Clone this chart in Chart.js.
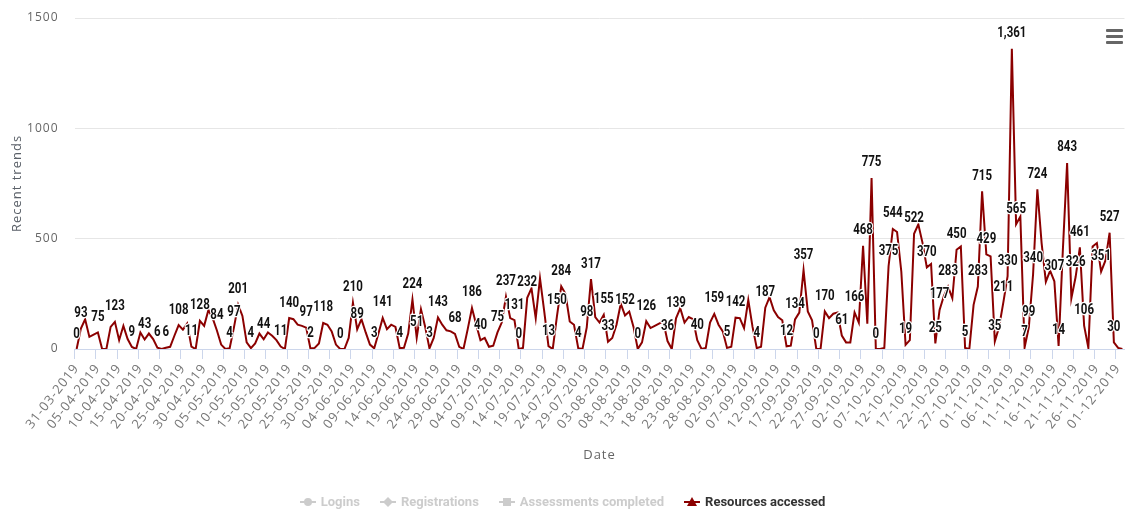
<!DOCTYPE html>
<html>
<head>
<meta charset="utf-8">
<script src="https://cdn.jsdelivr.net/npm/chart.js@4.4.0/dist/chart.umd.min.js"></script>
<style>
  html, body { margin: 0; padding: 0; background: #fff; }
  #wrap { position: relative; width: 1125px; height: 510px; }
  #menu { position: absolute; left: 1106px; top: 29px; width: 17px; }
  #menu span { display: block; height: 3px; background: #666; margin-bottom: 3px; border-radius: 1px; }
  #legend {
    position: absolute; left: 0; top: 494px; width: 1125px;
    display: flex; justify-content: center;
    font: bold 13px Roboto, "Liberation Sans", sans-serif;
  }
  .item { display: flex; align-items: center; margin: 0 10px; color: #ccc; }
  .item svg { margin-right: 5px; }
  .item.on { color: #333; }
</style>
</head>
<body>
<div id="wrap">
  <canvas id="chart" width="1125" height="510"></canvas>
  <div id="menu"><span></span><span></span><span></span></div>
  <div id="legend">
    <div class="item"><svg width="16" height="12"><line x1="0" y1="6" x2="16" y2="6" stroke="#ccc" stroke-width="2"/><circle cx="8" cy="6" r="4" fill="#ccc"/></svg>Logins</div>
    <div class="item"><svg width="16" height="12"><line x1="0" y1="6" x2="16" y2="6" stroke="#ccc" stroke-width="2"/><path d="M8 1 L13 6 L8 11 L3 6 Z" fill="#ccc"/></svg>Registrations</div>
    <div class="item"><svg width="16" height="12"><line x1="0" y1="6" x2="16" y2="6" stroke="#ccc" stroke-width="2"/><rect x="4" y="2" width="8" height="8" fill="#ccc"/></svg>Assessments completed</div>
    <div class="item on"><svg width="16" height="12"><line x1="0" y1="6" x2="16" y2="6" stroke="#8b0000" stroke-width="2"/><path d="M8 1 L13 10 L3 10 Z" fill="#8b0000"/></svg>Resources accessed</div>
  </div>
</div>
<script>
// daily values, 31-03-2019 .. 02-12-2019
const resources = [
  0, 93, 135, 55, 65, 75, 0, 0, 100, 123,
  40, 105, 45, 9, 0, 75, 43, 70, 45, 6,
  0, 6, 10, 60, 108, 88, 115, 11, 0, 128,
  105, 177, 140, 84, 20, 0, 4, 97, 201, 150,
  30, 4, 25, 70, 44, 75, 60, 40, 11, 0,
  140, 135, 110, 105, 97, 2, 5, 25, 118, 110,
  80, 20, 0, 0, 50, 210, 89, 135, 75, 20,
  3, 70, 141, 90, 110, 100, 4, 5, 70, 224,
  51, 180, 100, 3, 50, 143, 110, 85, 80, 68,
  10, 0, 90, 186, 110, 40, 50, 10, 15, 75,
  120, 237, 140, 131, 0, 5, 232, 275, 140, 320,
  170, 13, 0, 150, 284, 250, 125, 110, 4, 0,
  98, 317, 145, 120, 155, 33, 50, 110, 205, 152,
  170, 100, 0, 30, 126, 95, 105, 115, 125, 36,
  0, 139, 185, 120, 145, 135, 40, 0, 5, 120,
  159, 110, 80, 5, 10, 142, 140, 95, 222, 100,
  4, 10, 187, 235, 175, 145, 130, 12, 15, 134,
  165, 357, 170, 130, 0, 0, 170, 140, 160, 165,
  61, 30, 30, 166, 120, 468, 115, 775, 0, 0,
  5, 375, 544, 530, 350, 19, 40, 522, 565, 480,
  370, 385, 25, 177, 240, 283, 230, 450, 465, 5,
  0, 200, 283, 715, 429, 420, 35, 100, 211, 330,
  1361, 565, 600, 7, 99, 340, 724, 480, 305, 355,
  307, 14, 450, 843, 230, 326, 461, 106, 5, 465,
  480, 351, 400, 527, 30, 5, 0
];

// points whose value label is visible (the rest are hidden by overlap)
const labelledPoints = [
  0, 1, 5, 9, 13, 16, 19, 21, 24, 27, 29, 33, 36, 37, 38, 41, 44, 48, 50, 54, 55, 58,
  62, 65, 66, 70, 72, 76, 79, 80, 83, 85, 89, 93, 95, 99, 101, 103, 104, 106, 111,
  113, 114, 118, 120, 121, 124, 125, 129, 132, 134, 139, 141, 146, 150, 153, 155,
  160, 162, 167, 169, 171, 174, 176, 180, 183, 185, 187, 188, 191, 192, 195, 197,
  200, 202, 203, 205, 207, 209, 212, 213, 214, 216, 218, 219, 220, 221, 223, 224,
  225, 226, 230, 231, 233, 235, 236, 237, 241, 243, 244
];

const yTicks = [0, 500, 1000, 1500];

// dd-mm-yyyy category labels, one per day from 31-03-2019
const days = [];
const start = new Date(Date.UTC(2019, 2, 31));
for (let i = 0; i < resources.length; i++) {
    const d = new Date(start.getTime() + i * 86400000);
    const dd = String(d.getUTCDate()).padStart(2, '0');
    const mm = String(d.getUTCMonth() + 1).padStart(2, '0');
    days.push(`${dd}-${mm}-${d.getUTCFullYear()}`);
}

const axisFont = '"Open Sans", "DejaVu Sans", sans-serif';
const labelFont = 'Roboto, "Liberation Sans", sans-serif';

// axis text in the reference is slightly letter-spaced
const spacing = {
    id: 'spacing',
    beforeUpdate(chart) { chart.ctx.letterSpacing = '1px'; },
    beforeDraw(chart) { chart.ctx.letterSpacing = '1px'; }
};

// value labels above the points, condensed bold with a white outline
const pointLabels = {
    id: 'pointLabels',
    afterDatasetsDraw(chart) {
        const ctx = chart.ctx;
        const meta = chart.getDatasetMeta(0);
        ctx.save();
        ctx.letterSpacing = '0px';
        ctx.font = `bold 14px ${labelFont}`;
        ctx.textAlign = 'center';
        ctx.textBaseline = 'middle';
        ctx.lineJoin = 'round';
        ctx.lineWidth = 2.5;
        ctx.strokeStyle = '#fff';
        ctx.fillStyle = '#111';
        labelledPoints.forEach(i => {
            const p = meta.data[i];
            const text = resources[i].toLocaleString('en-US');
            ctx.save();
            ctx.translate(p.x, p.y - 15);
            ctx.scale(0.82, 1);
            ctx.strokeText(text, 0, 0);
            ctx.fillText(text, 0, 0);
            ctx.restore();
        });
        ctx.restore();
    }
};

new Chart(document.getElementById('chart'), {
    type: 'line',
    data: {
        labels: days,
        datasets: [{
            label: 'Resources accessed',
            data: resources,
            borderColor: '#8b0000',
            backgroundColor: '#8b0000',
            borderWidth: 2,
            tension: 0,
            pointRadius: 0,
            fill: false
        }]
    },
    options: {
        responsive: false,
        animation: false,
        layout: { padding: { top: 18, right: 0.5, bottom: 47, left: 0 } },
        plugins: {
            legend: { display: false },
            tooltip: { enabled: false }
        },
        scales: {
            x: {
                type: 'category',
                offset: true,
                grid: {
                    offset: true,
                    drawOnChartArea: false,
                    drawTicks: true,
                    tickLength: 10,
                    color: c => c.index % 5 === 0 ? '#ccd6eb' : 'rgba(0,0,0,0)'
                },
                border: { color: '#ccd6eb' },
                ticks: {
                    autoSkip: false,
                    minRotation: 52,
                    maxRotation: 52,
                    padding: 2,
                    color: '#777',
                    font: { family: axisFont, size: 13 },
                    callback: function(v, i) { return i % 5 === 0 ? this.getLabelForValue(v) : ''; }
                },
                title: {
                    display: true, text: 'Date', color: '#666',
                    font: { family: axisFont, size: 13 }, padding: 0
                },
                afterFit(scale) {
                    scale.height = 114;
                    scale.paddingLeft = 0;
                    scale.paddingRight = 0;
                }
            },
            y: {
                min: 0,
                max: 1500,
                afterBuildTicks(scale) { scale.ticks = yTicks.map(v => ({ value: v })); },
                ticks: {
                    padding: 16, color: '#666',
                    font: { family: axisFont, size: 12 },
                    callback: v => String(v)
                },
                grid: { color: '#e6e6e6', drawTicks: false },
                border: { display: false },
                title: {
                    display: true, text: 'Recent trends', color: '#5a6068',
                    font: { family: axisFont, size: 13 }, padding: { top: 9, bottom: 0 }
                },
                afterFit(scale) {
                    scale.width = 74.5;
                    scale.paddingTop = 0;
                    scale.paddingBottom = 0;
                }
            }
        }
    },
    plugins: [spacing, pointLabels]
});
</script>
</body>
</html>
